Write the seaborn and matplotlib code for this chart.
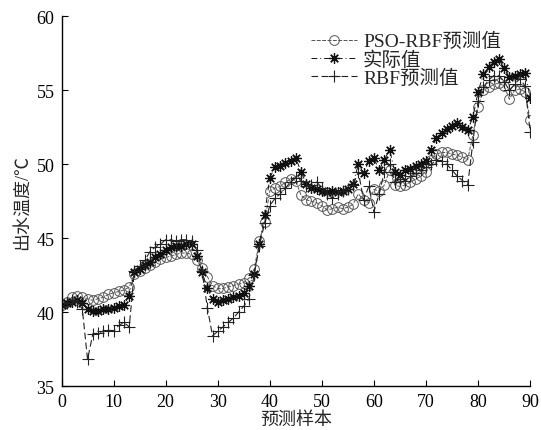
import matplotlib
matplotlib.use("Agg")
import matplotlib.pyplot as plt
import seaborn as sns
import numpy as np
import pandas as pd

samples = list(range(91))

pso_rbf = [40.5, 40.7, 41.0, 41.1, 41.0, 40.9, 40.8, 40.9, 41.0, 41.2,
           41.3, 41.4, 41.5, 41.7, 42.6, 42.8, 43.0, 43.2, 43.4, 43.6,
           43.7, 43.8, 43.9, 44.0, 44.0, 43.9, 43.5, 43.0, 42.4, 41.8,
           41.6, 41.6, 41.7, 41.8, 41.9, 42.0, 42.3, 42.9, 44.8, 46.1,
           48.2, 48.4, 48.5, 48.8, 49.0, 48.9, 47.9, 47.6, 47.5, 47.4,
           47.2, 46.9, 47.0, 47.1, 47.0, 47.1, 47.3, 48.0, 47.6, 47.4,
           48.3, 48.2, 48.6, 49.6, 48.6, 48.5, 48.6, 48.8, 49.0, 49.2,
           49.5, 50.3, 50.7, 50.8, 50.8, 50.7, 50.6, 50.5, 50.3, 52.0,
           53.9, 55.0, 55.2, 55.4, 55.5, 55.3, 54.4, 55.0, 55.1, 54.9,
           53.0]

actual = [40.5, 40.6, 40.7, 40.8, 40.6, 40.2, 40.1, 40.1, 40.2, 40.2,
          40.3, 40.4, 40.5, 41.1, 42.7, 42.9, 43.2, 43.4, 43.7, 43.9,
          44.2, 44.4, 44.5, 44.5, 44.6, 44.6, 43.8, 42.7, 41.6, 40.9,
          40.7, 40.8, 40.9, 41.0, 41.1, 41.3, 41.8, 42.6, 44.6, 46.6,
          49.1, 49.8, 49.9, 50.1, 50.2, 50.4, 49.5, 48.7, 48.4, 48.3,
          48.2, 48.1, 48.2, 48.1, 48.2, 48.3, 48.7, 50.0, 49.4, 50.2,
          50.4, 49.6, 50.3, 51.0, 49.5, 49.3, 49.6, 49.7, 49.9, 50.0,
          50.2, 51.0, 51.8, 52.1, 52.4, 52.6, 52.8, 52.5, 52.3, 53.2,
          54.9, 56.1, 56.6, 56.9, 57.1, 56.5, 55.9, 56.0, 56.1, 56.2,
          54.5]

rbf = [40.4, 40.6, 40.8, 40.7, 40.2, 36.8, 38.5, 38.6, 38.7, 38.8,
       38.7, 39.1, 39.3, 39.0, 42.8, 43.1, 43.5, 44.1, 44.4, 44.6,
       44.9, 44.9, 44.8, 44.9, 44.9, 44.8, 44.2, 42.8, 40.3, 38.4,
       38.7, 39.0, 39.3, 39.6, 40.0, 40.4, 40.9, 42.5, 44.5, 46.0,
       47.2, 47.7, 48.0, 48.4, 48.8, 49.1, 48.9, 48.5, 48.6, 48.8,
       48.4, 48.0, 47.7, 48.0, 48.2, 48.3, 48.6, 49.5, 47.6, 48.5,
       46.8, 48.0, 49.5, 50.0, 48.8, 49.0, 48.9, 49.2, 49.4, 49.6,
       49.8, 50.0, 50.3, 50.2, 50.0, 49.6, 49.2, 48.9, 48.6, 51.5,
       54.3, 55.2, 55.7, 56.0, 56.0, 55.6, 55.0, 55.4, 55.8, 55.3,
       52.2]

series_labels = ["PSO-RBF预测值", "实际值", "RBF预测值"]
x_label = "预测样本"
y_label = "出水温度/℃"
x_ticks = [0, 10, 20, 30, 40, 50, 60, 70, 80, 90]
y_ticks = [35, 40, 45, 50, 55, 60]

sns.set_style("ticks")
plt.rcParams['font.family'] = ['Liberation Serif', 'Noto Sans CJK SC', 'DejaVu Sans']
plt.rcParams['axes.unicode_minus'] = False

fig = plt.figure(figsize=(5.41, 4.31), dpi=100)
ax = fig.add_axes([0.1137, 0.102, 0.980 - 0.1137, 0.9594 - 0.102])

df = pd.DataFrame({"x": samples, "pso": pso_rbf, "act": actual, "rbf": rbf})

sns.lineplot(data=df, x="x", y="pso", ax=ax, label=series_labels[0],
             color="#555555", linewidth=0.7, linestyle=(0, (4, 1.5)),
             marker="o", markersize=7, markerfacecolor="none",
             markeredgecolor="#555555", markeredgewidth=0.7)
sns.lineplot(data=df, x="x", y="act", ax=ax, label=series_labels[1],
             color="#111111", linewidth=0.7, linestyle=(0, (6, 3, 1, 3)),
             marker=(8, 2, 0), markersize=7.5, markeredgecolor="#111111",
             markeredgewidth=0.9)
sns.lineplot(data=df, x="x", y="rbf", ax=ax, label=series_labels[2],
             color="#222222", linewidth=0.8, linestyle=(0, (6, 3)),
             marker="+", markersize=9, markeredgecolor="#222222",
             markeredgewidth=0.8)

ax.set_xlim(0, 90)
ax.set_ylim(35, 60)
ax.set_xticks(x_ticks)
ax.set_yticks(y_ticks)
ax.tick_params(direction="in", length=4, width=0.8, labelsize=13, colors="black", pad=5)
for s in ["top", "right"]:
    ax.spines[s].set_visible(False)
for s in ["left", "bottom"]:
    ax.spines[s].set_linewidth(1.0)
    ax.spines[s].set_color("black")

ax.set_xlabel(x_label, fontsize=13, labelpad=1)
ax.set_ylabel(y_label, fontsize=13, labelpad=4)

leg = ax.legend(loc="upper left", bbox_to_anchor=(0.574, 0.923),
                bbox_transform=fig.transFigure, frameon=False,
                fontsize=14, handlelength=2.4, handletextpad=0.3,
                labelspacing=0.0, borderpad=0, borderaxespad=0)

fig.savefig("out.png", dpi=100)
